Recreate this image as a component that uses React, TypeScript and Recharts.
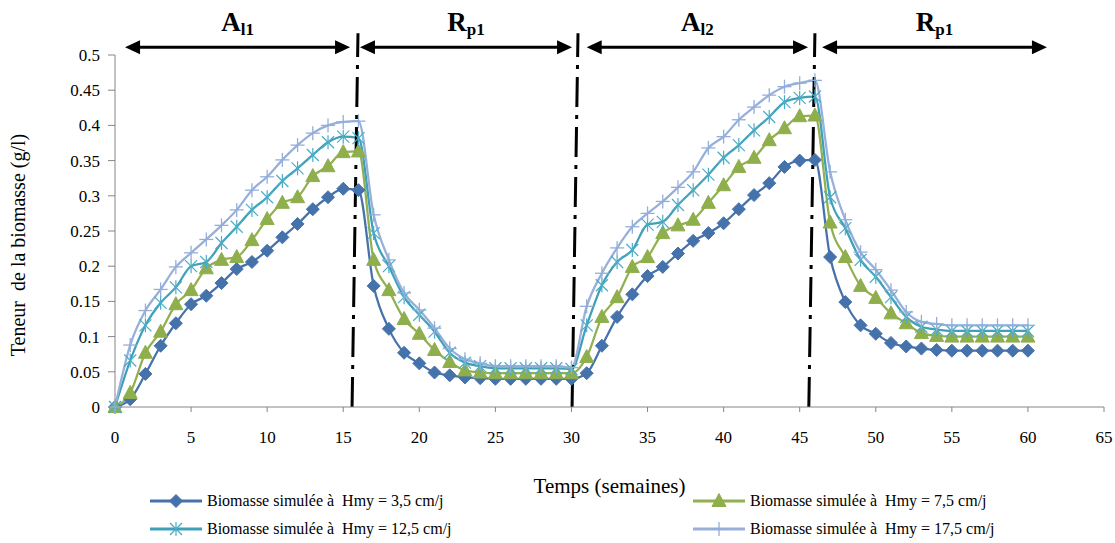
import React from 'react';
import { LineChart, Line, XAxis, YAxis, ReferenceLine, Legend } from 'recharts';

const FONT = '"Liberation Serif", "Times New Roman", serif';

// semaines 0..60
const weeks = [
  0, 1, 2, 3, 4, 5, 6, 7, 8, 9, 10, 11, 12, 13, 14, 15, 16, 17, 18, 19, 20,
  21, 22, 23, 24, 25, 26, 27, 28, 29, 30, 31, 32, 33, 34, 35, 36, 37, 38, 39, 40,
  41, 42, 43, 44, 45, 46, 47, 48, 49, 50, 51, 52, 53, 54, 55, 56, 57, 58, 59, 60,
];

const hmy35 = [
  0, 0.011, 0.047, 0.087, 0.119, 0.146, 0.158, 0.176, 0.196, 0.206, 0.222,
  0.241, 0.26, 0.281, 0.298, 0.31, 0.308, 0.172, 0.111, 0.077, 0.062,
  0.049, 0.045, 0.042, 0.041, 0.04, 0.04, 0.04, 0.04, 0.04, 0.04,
  0.048, 0.087, 0.128, 0.16, 0.186, 0.199, 0.218, 0.236, 0.247, 0.261,
  0.281, 0.301, 0.318, 0.341, 0.35, 0.351, 0.213, 0.149, 0.116, 0.104,
  0.091, 0.086, 0.083, 0.081, 0.08, 0.08, 0.08, 0.08, 0.08, 0.08,
];

const hmy75 = [
  0, 0.02, 0.077, 0.107, 0.146, 0.166, 0.197, 0.209, 0.213, 0.237, 0.267,
  0.29, 0.298, 0.328, 0.342, 0.362, 0.363, 0.209, 0.166, 0.125, 0.104,
  0.081, 0.064, 0.052, 0.049, 0.048, 0.048, 0.048, 0.048, 0.048, 0.048,
  0.071, 0.128, 0.156, 0.199, 0.213, 0.247, 0.258, 0.266, 0.29, 0.315,
  0.341, 0.354, 0.379, 0.396, 0.413, 0.414, 0.262, 0.213, 0.172, 0.155,
  0.133, 0.119, 0.105, 0.101, 0.1, 0.1, 0.1, 0.1, 0.1, 0.1,
];

const hmy125 = [
  0, 0.066, 0.116, 0.148, 0.17, 0.2, 0.206, 0.233, 0.256, 0.28, 0.298,
  0.321, 0.339, 0.358, 0.376, 0.384, 0.382, 0.247, 0.2, 0.156, 0.131,
  0.107, 0.077, 0.063, 0.058, 0.055, 0.055, 0.055, 0.055, 0.055, 0.054,
  0.116, 0.173, 0.206, 0.223, 0.259, 0.263, 0.287, 0.308, 0.33, 0.354,
  0.372, 0.393, 0.412, 0.433, 0.439, 0.441, 0.298, 0.254, 0.209, 0.185,
  0.156, 0.128, 0.114, 0.11, 0.108, 0.108, 0.108, 0.108, 0.108, 0.108,
];

const hmy175 = [
  0, 0.088, 0.137, 0.167, 0.199, 0.219, 0.238, 0.258, 0.28, 0.308, 0.327,
  0.351, 0.372, 0.389, 0.4, 0.405, 0.406, 0.273, 0.209, 0.162, 0.138,
  0.112, 0.083, 0.068, 0.062, 0.058, 0.058, 0.058, 0.058, 0.058, 0.056,
  0.143, 0.19, 0.226, 0.256, 0.275, 0.292, 0.312, 0.334, 0.368, 0.384,
  0.408, 0.426, 0.443, 0.455, 0.46, 0.464, 0.334, 0.266, 0.22, 0.195,
  0.166, 0.135, 0.121, 0.118, 0.116, 0.116, 0.116, 0.116, 0.116, 0.116,
];

const seriesKeys = ['h35', 'h75', 'h125', 'h175'];
const seriesNames = [
  'Biomasse simulée à  Hmy = 3,5 cm/j',
  'Biomasse simulée à  Hmy = 7,5 cm/j',
  'Biomasse simulée à  Hmy = 12,5 cm/j',
  'Biomasse simulée à  Hmy = 17,5 cm/j',
];
const seriesColors = ['#4672AB', '#92B050', '#3FA0B8', '#96B0DA'];
const markerColors = ['#4672AB', '#8FAE4C', '#4BACC6', '#93AEDB'];

const xTicks = [0, 5, 10, 15, 20, 25, 30, 35, 40, 45, 50, 55, 60, 65];
const yTicks = [0, 0.05, 0.1, 0.15, 0.2, 0.25, 0.3, 0.35, 0.4, 0.45, 0.5];

// phases (flèches en haut)
const phaseMain = ['A', 'R', 'A', 'R'];
const phaseSub = ['l1', 'p1', 'l2', 'p1'];
const phaseFrom = [0.66, 16.1, 31.0, 46.47];
const phaseTo = [15.45, 30.04, 45.55, 61.25];
const arrowLevel = 0.511;

// séparations en trait mixte
const splitBottom = [15.58, 30.04, 45.6];
const splitTop = [15.97, 30.43, 46.0];
const splitHeight = 0.531;

const data = weeks.map((w, i) => ({
  week: w,
  h35: hmy35[i],
  h75: hmy75[i],
  h125: hmy125[i],
  h175: hmy175[i],
}));

const Marker = ({ kind, cx, cy, color }: any) => {
  if (cx == null || cy == null) return null;
  if (kind === 0) {
    return (
      <polygon
        points={`${cx},${cy - 6.5} ${cx + 6.5},${cy} ${cx},${cy + 6.5} ${cx - 6.5},${cy}`}
        fill={color}
        stroke={color}
      />
    );
  }
  if (kind === 1) {
    return (
      <polygon
        points={`${cx},${cy - 7.5} ${cx + 7},${cy + 5.5} ${cx - 7},${cy + 5.5}`}
        fill={color}
        stroke={color}
      />
    );
  }
  if (kind === 2) {
    return (
      <g stroke={color} strokeWidth={1.2}>
        <line x1={cx - 6} y1={cy - 6} x2={cx + 6} y2={cy + 6} />
        <line x1={cx - 6} y1={cy + 6} x2={cx + 6} y2={cy - 6} />
        <line x1={cx} y1={cy - 7} x2={cx} y2={cy + 7} />
      </g>
    );
  }
  return (
    <g stroke={color} strokeWidth={1.3}>
      <line x1={cx - 7} y1={cy} x2={cx + 7} y2={cy} />
      <line x1={cx} y1={cy - 7} x2={cx} y2={cy + 7} />
    </g>
  );
};

const PhaseArrow = (i: number) => (props: any) => {
  const { x1, y1, x2 } = props;
  const head = 15;
  const half = 7;
  const mid = (x1 + x2) / 2;
  return (
    <g>
      <line x1={x1 + head - 2} y1={y1} x2={x2 - head + 2} y2={y1} stroke="#000" strokeWidth={3} />
      <polygon points={`${x1},${y1} ${x1 + head},${y1 - half} ${x1 + head},${y1 + half}`} fill="#000" />
      <polygon points={`${x2},${y1} ${x2 - head},${y1 - half} ${x2 - head},${y1 + half}`} fill="#000" />
      <text x={mid} y={y1 - 16} textAnchor="middle" fontFamily={FONT} fontWeight="bold" fontSize={27} fill="#000">
        {phaseMain[i]}
        <tspan fontSize={17} dy={4}>{phaseSub[i]}</tspan>
      </text>
    </g>
  );
};

const renderLegend = () => {
  const cols = [150, 693];
  const rows = [13, 41];
  return (
    <div style={{ position: 'relative', width: 1115, height: 55, fontFamily: FONT, fontSize: 16, color: '#000' }}>
      {seriesNames.map((name, i) => (
        <div
          key={name}
          style={{
            position: 'absolute',
            left: cols[i % 2],
            top: rows[Math.floor(i / 2)] - 9,
            height: 18,
            display: 'flex',
            alignItems: 'center',
            whiteSpace: 'pre',
          }}
        >
          <svg width={52} height={16} style={{ marginRight: 5 }}>
            <line x1={0} y1={8} x2={52} y2={8} stroke={seriesColors[i]} strokeWidth={3} />
            <Marker kind={i} cx={26} cy={8} color={markerColors[i]} />
          </svg>
          <span>{name}</span>
        </div>
      ))}
    </div>
  );
};

export default function App() {
  return (
    <div style={{ position: 'absolute', left: 0, top: 0, width: 1115, height: 543, background: '#fff' }}>
      <LineChart
        width={1115}
        height={543}
        data={data}
        margin={{ top: 55, right: 11, left: 0, bottom: 0 }}
      >
        <XAxis
          type="number"
          dataKey="week"
          domain={[0, 65]}
          ticks={xTicks}
          interval={0}
          height={136}
          stroke="#868686"
          tickSize={5}
          tickMargin={19}
          tick={{ fill: '#000', fontSize: 17, fontFamily: FONT }}
          label={{ value: 'Temps (semaines)', position: 'insideTop', offset: 71, fill: '#000', fontSize: 21, fontFamily: FONT }}
        />
        <YAxis
          type="number"
          domain={[0, 0.5]}
          ticks={yTicks}
          interval={0}
          width={115}
          stroke="#868686"
          tickSize={7}
          tickMargin={8}
          tick={{ fill: '#000', fontSize: 17, fontFamily: FONT }}
          label={{
            content: ({ viewBox }: any) => {
              const cx = viewBox.x + 18;
              const cy = viewBox.y + viewBox.height / 2 + 14;
              return (
                <text
                  x={cx}
                  y={cy}
                  transform={`rotate(-90 ${cx} ${cy})`}
                  textAnchor="middle"
                  dominantBaseline="central"
                  fontFamily={FONT}
                  fontSize={20}
                  fill="#000"
                  style={{ whiteSpace: 'pre' }}
                >
                  {'Teneur  de la biomasse (g/l)'}
                </text>
              );
            },
          }}
        />
        <Legend
          layout="horizontal"
          verticalAlign="middle"
          align="center"
          content={renderLegend}
          wrapperStyle={{ left: 0, top: 488, width: 1115, height: 55 }}
        />
        {seriesKeys.map((key, i) => (
          <Line
            key={key}
            type="monotone"
            dataKey={key}
            name={seriesNames[i]}
            stroke={seriesColors[i]}
            strokeWidth={2.25}
            isAnimationActive={false}
            dot={(p: any) => <Marker key={`${key}-${p.index}`} kind={i} cx={p.cx} cy={p.cy} color={markerColors[i]} />}
            activeDot={false}
          />
        ))}
        {splitBottom.map((xb, i) => (
          <ReferenceLine
            key={`split-${i}`}
            segment={[{ x: xb, y: 0 }, { x: splitTop[i], y: splitHeight }]}
            stroke="#000"
            strokeWidth={3}
            strokeDasharray="30 8 4 8"
            ifOverflow="visible"
          />
        ))}
        {phaseFrom.map((x0, i) => (
          <ReferenceLine
            key={`phase-${i}`}
            segment={[{ x: x0, y: arrowLevel }, { x: phaseTo[i], y: arrowLevel }]}
            ifOverflow="visible"
            shape={PhaseArrow(i)}
          />
        ))}
      </LineChart>
    </div>
  );
}
